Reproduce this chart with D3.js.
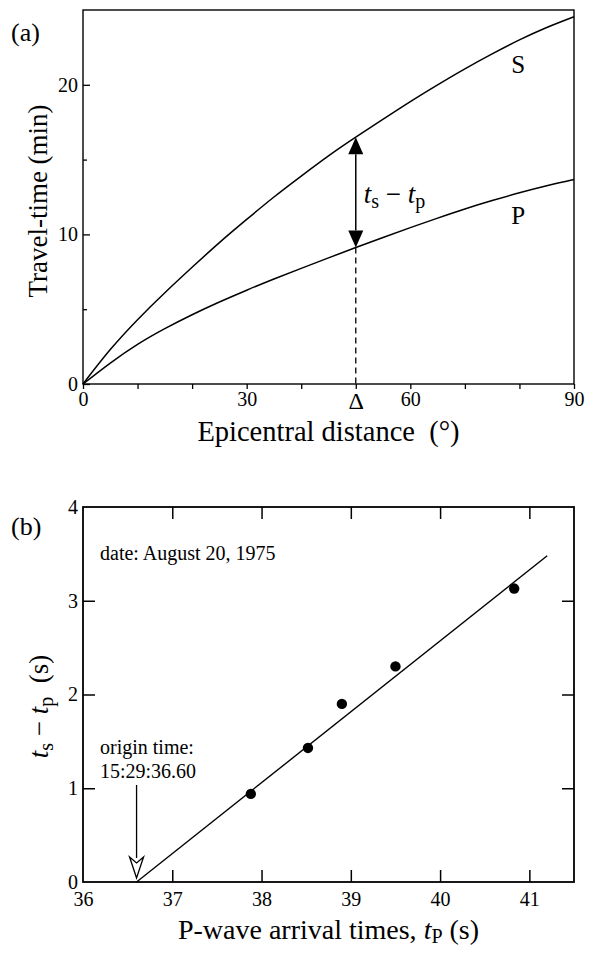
<!DOCTYPE html>
<html>
<head>
<meta charset="utf-8">
<script src="https://cdn.jsdelivr.net/npm/d3@7"></script>
<style>
  body { margin: 0; background: #fff; }
  svg { display: block; font-family: "Palatino Linotype", "Book Antiqua", Palatino, "Liberation Serif", serif; }
  .tick text { font-family: "Palatino Linotype", "Book Antiqua", Palatino, "Liberation Serif", serif; }
</style>
</head>
<body>
<div id="chart"></div>
<script>
// Panel (a): travel-time curves
const distances = [0, 5, 10, 15, 20, 25, 30, 35, 40, 45, 50, 55, 60, 65, 70, 75, 80, 85, 90];
const sTimes = [0, 2.3, 4.3, 6.1, 7.8, 9.45, 11.0, 12.5, 13.9, 15.25, 16.5, 17.7, 18.88, 20.0, 21.07, 22.07, 23.0, 23.83, 24.55];
const pTimes = [0, 1.4, 2.65, 3.7, 4.63, 5.48, 6.27, 7.02, 7.73, 8.43, 9.12, 9.79, 10.45, 11.09, 11.7, 12.26, 12.78, 13.25, 13.67];
const deltaDist = 50;
const xTicksA = [0, 10, 20, 30, 40, 50, 60, 70, 80, 90];
const xLabelsA = { 0: "0", 30: "30", 50: "\u0394", 60: "60", 90: "90" };
const yTicksA = [0, 10, 20];
const yMinorA = [5, 15];

// Panel (b): S-P times against P arrival
const arrivalTimes = [37.88, 38.52, 38.90, 39.50, 40.83];
const spDiffs = [0.94, 1.43, 1.90, 2.30, 3.13];
const fitX = [36.6, 41.2];
const fitY = [0, 3.48];
const originTime = 36.6;
const xTicksB = [36, 37, 38, 39, 40, 41];
const yTicksB = [0, 1, 2, 3, 4];

const W = 594, H = 953;
const svg = d3.select("#chart").append("svg")
    .attr("width", W)
    .attr("height", H);

const left = 83, right = 574;

// ---------- (a) ----------
const xA = d3.scaleLinear().domain([0, 90]).range([left, right]);
const yA = d3.scaleLinear().domain([0, 25]).range([384, 10]);

const gA = svg.append("g");

gA.append("rect")
    .attr("x", xA(0)).attr("y", yA(25))
    .attr("width", xA(90) - xA(0)).attr("height", yA(0) - yA(25))
    .attr("fill", "none").attr("stroke", "#000").attr("stroke-width", 1.4);

// left axis, inward ticks
gA.append("g")
    .attr("transform", `translate(${xA(0)},0)`)
    .call(d3.axisLeft(yA).tickValues(yTicksA).tickSize(-7).tickPadding(5))
    .call(g => g.select(".domain").remove())
    .call(g => g.selectAll("line").attr("stroke-width", 1.3))
    .call(g => g.selectAll("text").attr("font-size", 20).attr("fill", "#000"));

gA.append("g")
    .attr("transform", `translate(${xA(0)},0)`)
    .call(d3.axisLeft(yA).tickValues(yMinorA).tickSize(-4).tickFormat(""))
    .call(g => g.select(".domain").remove())
    .call(g => g.selectAll("line").attr("stroke-width", 1.3));

// bottom axis, outward ticks
gA.append("g")
    .attr("transform", `translate(0,${yA(0)})`)
    .call(d3.axisBottom(xA).tickValues(xTicksA).tickSize(5).tickPadding(3)
        .tickFormat(d => xLabelsA[d] || ""))
    .call(g => g.select(".domain").remove())
    .call(g => g.selectAll("line").attr("stroke-width", 1.3))
    .call(g => g.selectAll("text").attr("font-size", d => d === deltaDist ? 24 : 20).attr("fill", "#000"));

const lineA = (vals) => d3.line()
    .x((d, i) => xA(distances[i]))
    .y(d => yA(d))
    .curve(d3.curveNatural)(vals);

gA.append("path").attr("d", lineA(sTimes))
    .attr("fill", "none").attr("stroke", "#000").attr("stroke-width", 1.5);
gA.append("path").attr("d", lineA(pTimes))
    .attr("fill", "none").attr("stroke", "#000").attr("stroke-width", 1.5);

gA.append("text").attr("x", xA(78.5)).attr("y", yA(20.8))
    .attr("font-size", 25).text("S");
gA.append("text").attr("x", xA(78.5)).attr("y", yA(10.7))
    .attr("font-size", 25).text("P");

// t_s - t_p arrow at Delta
const di = distances.indexOf(deltaDist);
const ax = xA(deltaDist), aTop = yA(sTimes[di]), aBot = yA(pTimes[di]);
const headW = 7.5, headL = 17;

gA.append("line")
    .attr("x1", ax).attr("x2", ax)
    .attr("y1", aTop + headL).attr("y2", aBot - headL)
    .attr("stroke", "#000").attr("stroke-width", 1.5);
gA.append("path")
    .attr("d", `M${ax},${aTop} L${ax - headW},${aTop + headL} L${ax + headW},${aTop + headL} Z`)
    .attr("fill", "#000");
gA.append("path")
    .attr("d", `M${ax},${aBot} L${ax - headW},${aBot - headL} L${ax + headW},${aBot - headL} Z`)
    .attr("fill", "#000");

gA.append("line")
    .attr("x1", ax).attr("x2", ax)
    .attr("y1", aBot).attr("y2", yA(0))
    .attr("stroke", "#000").attr("stroke-width", 1.3)
    .attr("stroke-dasharray", "6,4");

const lblA = gA.append("text")
    .attr("x", ax + 8).attr("y", (aTop + aBot) / 2 + 11)
    .attr("font-size", 27);
lblA.append("tspan").attr("font-style", "italic").text("t");
lblA.append("tspan").attr("font-size", 20).attr("dy", 5).text("s");
lblA.append("tspan").attr("dy", -5).text(" \u2212 ");
lblA.append("tspan").attr("font-style", "italic").text("t");
lblA.append("tspan").attr("font-size", 20).attr("dy", 5).text("p");

svg.append("text").attr("x", 11).attr("y", 41).attr("font-size", 26).text("(a)");

svg.append("text")
    .attr("transform", `translate(47,${(yA(0) + yA(25)) / 2 + 4}) rotate(-90)`)
    .attr("text-anchor", "middle")
    .attr("font-size", 27)
    .text("Travel-time (min)");

svg.append("text")
    .attr("x", (xA(0) + xA(90)) / 2)
    .attr("y", 441)
    .attr("text-anchor", "middle")
    .attr("font-size", 28.5)
    .text("Epicentral distance\u00a0 (\u00b0)");

// ---------- (b) ----------
const xB = d3.scaleLinear().domain([36, 41.5]).range([left, right]);
const yB = d3.scaleLinear().domain([0, 4]).range([882, 507]);

const gB = svg.append("g");

gB.append("rect")
    .attr("x", xB(36)).attr("y", yB(4))
    .attr("width", xB(41.5) - xB(36)).attr("height", yB(0) - yB(4))
    .attr("fill", "none").attr("stroke", "#000").attr("stroke-width", 1.8);

gB.append("g")
    .attr("transform", `translate(${xB(36)},0)`)
    .call(d3.axisLeft(yB).tickValues(yTicksB).tickSize(-12).tickPadding(5).tickFormat(d3.format("d")))
    .call(g => g.select(".domain").remove())
    .call(g => g.selectAll("line").attr("stroke-width", 1.5).filter(d => d === 0 || d === 4).remove())
    .call(g => g.selectAll("text").attr("font-size", 20).attr("fill", "#000"));

gB.append("g")
    .attr("transform", `translate(${xB(41.5)},0)`)
    .call(d3.axisRight(yB).tickValues(yTicksB.slice(1, 4)).tickSize(-12).tickFormat(""))
    .call(g => g.select(".domain").remove())
    .call(g => g.selectAll("line").attr("stroke-width", 1.5));

gB.append("g")
    .attr("transform", `translate(0,${yB(0)})`)
    .call(d3.axisBottom(xB).tickValues(xTicksB).tickSize(-12).tickPadding(10).tickFormat(d3.format("d")))
    .call(g => g.select(".domain").remove())
    .call(g => g.selectAll("line").attr("stroke-width", 1.5).filter(d => d === 36).remove())
    .call(g => g.selectAll("text").attr("font-size", 20).attr("fill", "#000"));

gB.append("g")
    .attr("transform", `translate(0,${yB(4)})`)
    .call(d3.axisTop(xB).tickValues(xTicksB.slice(1)).tickSize(-12).tickFormat(""))
    .call(g => g.select(".domain").remove())
    .call(g => g.selectAll("line").attr("stroke-width", 1.5));

gB.append("line")
    .attr("x1", xB(fitX[0])).attr("y1", yB(fitY[0]))
    .attr("x2", xB(fitX[1])).attr("y2", yB(fitY[1]))
    .attr("stroke", "#000").attr("stroke-width", 1.4);

gB.selectAll("circle")
    .data(arrivalTimes)
    .enter()
    .append("circle")
    .attr("cx", d => xB(d))
    .attr("cy", (d, i) => yB(spDiffs[i]))
    .attr("r", 5.2)
    .attr("fill", "#000");

gB.append("text").attr("x", 100).attr("y", 560)
    .attr("font-size", 20).text("date: August 20, 1975");

gB.append("text").attr("x", 100).attr("y", 754)
    .attr("font-size", 20).text("origin time:");
gB.append("text").attr("x", 100).attr("y", 778)
    .attr("font-size", 20).text("15:29:36.60");

// hollow arrow down to origin time
const ox = xB(originTime), oTip = yB(0) - 4;
gB.append("line")
    .attr("x1", ox).attr("x2", ox)
    .attr("y1", 785).attr("y2", oTip - 20)
    .attr("stroke", "#000").attr("stroke-width", 1.3);
gB.append("path")
    .attr("d", `M${ox},${oTip} L${ox - 7},${oTip - 21} L${ox},${oTip - 15} L${ox + 7},${oTip - 21} Z`)
    .attr("fill", "#fff").attr("stroke", "#000").attr("stroke-width", 1.3);

svg.append("text").attr("x", 11).attr("y", 535).attr("font-size", 26).text("(b)");

const lblBy = svg.append("text")
    .attr("transform", `translate(48,${(yB(0) + yB(4)) / 2 + 12}) rotate(-90)`)
    .attr("text-anchor", "middle")
    .attr("font-size", 27);
lblBy.append("tspan").attr("font-style", "italic").text("t");
lblBy.append("tspan").attr("font-size", 20).attr("dy", 5).text("s");
lblBy.append("tspan").attr("dy", -5).text(" \u2212 ");
lblBy.append("tspan").attr("font-style", "italic").text("t");
lblBy.append("tspan").attr("font-size", 20).attr("dy", 5).text("p");
lblBy.append("tspan").attr("dy", -5).text("\u00a0 (s)");

const lblBx = svg.append("text")
    .attr("x", (xB(36) + xB(41.5)) / 2)
    .attr("y", 939)
    .attr("text-anchor", "middle")
    .attr("font-size", 28);
lblBx.append("tspan").text("P-wave arrival times, ");
lblBx.append("tspan").attr("font-style", "italic").text("t");
lblBx.append("tspan").attr("font-size", 20).attr("dy", 4).text("P");
lblBx.append("tspan").attr("dy", -4).text(" (s)");
</script>
</body>
</html>
